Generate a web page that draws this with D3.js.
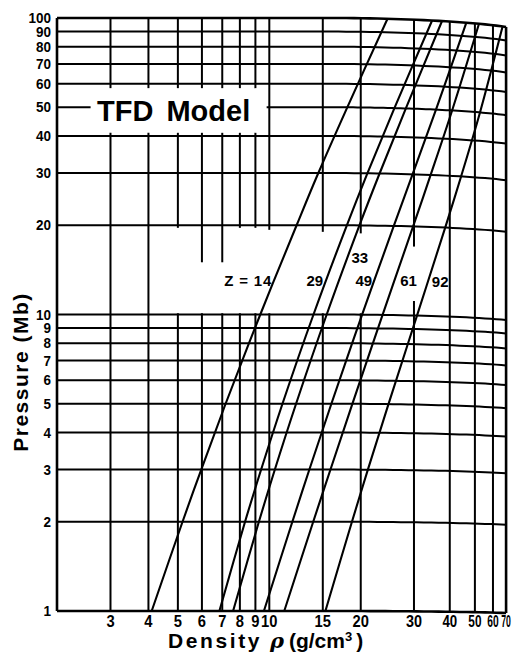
<!DOCTYPE html>
<html>
<head>
<meta charset="utf-8">
<script src="https://cdn.jsdelivr.net/npm/d3@7/dist/d3.min.js"></script>
<style>
body { margin: 0; background: #fff; }
text { font-family: "Liberation Sans", Arial, sans-serif; font-weight: bold; fill: #000; }
</style>
</head>
<body>
<svg id="chart" width="513" height="654"></svg>
<script>
const pressures = [1, 2, 3, 5, 10, 20, 30, 50, 100];
// density (g/cm3) of each element at those pressures
const zNumbers = [14, 29, 33, 49, 61, 92];
const rhoZ14 = [4.1, 5.18, 5.97, 7.18, 9.34, 12.3, 14.5, 18.06, 24.5];
const rhoZ29 = [6.85, 8.32, 9.4, 11.05, 13.98, 18.0, 21.03, 25.82, 34.6];
const rhoZ33 = [7.6, 9.24, 10.43, 12.25, 15.45, 19.8, 23.07, 28.18, 37.5];
const rhoZ49 = [9.6, 11.91, 13.55, 16.01, 20.21, 25.7, 29.67, 35.7, 46.2];
const rhoZ61 = [11.2, 13.95, 15.9, 18.77, 23.6, 29.8, 34.2, 40.8, 52];
const rhoZ92 = [15.3, 18.71, 21.11, 24.68, 30.71, 38.5, 44.09, 52.5, 67];
const curves = [rhoZ14, rhoZ29, rhoZ33, rhoZ49, rhoZ61, rhoZ92];

// grid / tick values
const densityTicks = [3, 4, 5, 6, 7, 8, 9, 10, 15, 20, 30, 40, 50, 60, 70];
const pressureTicks = [1, 2, 3, 4, 5, 6, 7, 8, 9, 10, 20, 30, 40, 50, 60, 70, 80, 90, 100];

// where grid lines are left blank (title and Z labels)
const densityGaps = [
    { rho: [3, 4, 5, 6, 7, 8, 9], from: 41, to: 58 },
    { rho: [5, 8, 9], from: 10.1, to: 19.6 },
    { rho: [6, 7], from: 10.1, to: 15 },
    { rho: [10], from: 10.1, to: 19.3 },
    { rho: [15], from: 10.1, to: 19.0 },
    { rho: [20], from: 10.1, to: 18.8 },
    { rho: [30], from: 11.2, to: 17.1 }
];
const pressureGaps = [{ p: [50], from: 2.58, to: 9.8 }];

// label placement: pressure where the label sits, side of the curve
const labelP = [13, 13, 15.5, 13, 13, 13];
const labelSide = ["end", "end", "start", "end", "start", "start"];
const labelDx = [-2, -3, 4, -2, 6, 4];

const svg = d3.select("#chart");

const x = d3.scaleLog().domain([2, 70]).range([57, 526]);
const y = d3.scaleLog().domain([1, 100]).range([611, 18]);

// the scanned page bends near the binding: right side squeezed and dropped
function bend(px, py) {
    const dx = Math.max(0, px - 380);
    const dq = Math.max(0, px - 330) / 196;
    const drop = (2 + 7 * (611 - py) / 593) * dq * dq;
    return [px - 6.4e-6 * dx * dx * dx, py + drop];
}
const pt = (rho, p) => bend(x(rho), y(p));

function logSteps(a, b, n) {
    return d3.range(n + 1).map(i => a * Math.pow(b / a, i / n));
}

// split [a,b] by gap list
function pieces(a, b, gaps) {
    let segs = [[a, b]];
    gaps.forEach(g => {
        const out = [];
        segs.forEach(([s, e]) => {
            if (g.to <= s || g.from >= e) { out.push([s, e]); return; }
            if (g.from > s) out.push([s, g.from]);
            if (g.to < e) out.push([g.to, e]);
        });
        segs = out;
    });
    return segs;
}

const line = d3.line();
const grid = svg.append("g")
    .attr("fill", "none")
    .attr("stroke", "#000")
    .attr("stroke-width", 2);

// horizontal grid (isobars)
pressureTicks.forEach(p => {
    const gaps = pressureGaps.filter(g => g.p.includes(p));
    pieces(2, 70, gaps).forEach(([a, b]) => {
        grid.append("path")
            .attr("stroke-width", (p === 1 || p === 100) ? 2.6 : 2)
            .attr("d", line(logSteps(a, b, 60).map(r => pt(r, p))));
    });
});

// vertical grid
[2].concat(densityTicks).forEach(r => {
    const gaps = densityGaps.filter(g => g.rho.includes(r));
    pieces(1, 100, gaps).forEach(([a, b]) => {
        grid.append("path")
            .attr("stroke-width", (r === 2 || r === 70) ? 2.6 : 2)
            .attr("d", line(logSteps(a, b, 30).map(p => pt(r, p))));
    });
});

// TFD curves
const curveLine = d3.line().curve(d3.curveCatmullRom.alpha(0.5));
svg.append("g")
    .selectAll("path")
    .data(curves)
    .join("path")
    .attr("fill", "none")
    .attr("stroke", "#000")
    .attr("stroke-width", 2.1)
    .attr("d", d => curveLine(pressures.map((p, i) => pt(d[i], p))));

// curve labels
const lnP = pressures.map(Math.log);
curves.forEach((d, i) => {
    const rhoAt = d3.scaleLinear().domain(lnP).range(d.map(Math.log));
    const p = labelP[i];
    const [cx, cy] = pt(Math.exp(rhoAt(Math.log(p))), p);
    svg.append("text")
        .attr("x", cx + labelDx[i])
        .attr("y", cy + 5)
        .attr("text-anchor", labelSide[i])
        .attr("font-size", 15)
        .attr("letter-spacing", i === 0 ? 0.8 : 0)
        .text(i === 0 ? "Z = " + zNumbers[i] : zNumbers[i]);
});

// y tick labels
svg.append("g")
    .selectAll("text")
    .data(pressureTicks)
    .join("text")
    .attr("transform", d => `translate(51,${y(d) + 5.2}) scale(0.9,1)`)
    .attr("text-anchor", "end")
    .attr("font-size", 15)
    .text(d => d);

// x tick labels (squeezed like the bent page)
svg.append("g")
    .selectAll("text")
    .data(densityTicks)
    .join("text")
    .attr("transform", d => {
        const px = x(d);
        const dx = Math.max(0, px - 380);
        const k = 1 - 3 * 6.4e-6 * dx * dx;
        return `translate(${bend(px, 611)[0]},627) scale(${0.92 * k},1)`;
    })
    .attr("text-anchor", "middle")
    .attr("font-size", 16)
    .text(d => d);

// title
svg.append("text")
    .attr("x", 97)
    .attr("y", 121)
    .attr("font-size", 29)
    .attr("word-spacing", 5)
    .text("TFD Model");

// axis titles
svg.append("text")
    .attr("x", 168)
    .attr("y", 648)
    .attr("font-size", 21)
    .attr("letter-spacing", 2.6)
    .text("Density");

const unit = svg.append("text")
    .attr("x", 270)
    .attr("y", 648)
    .attr("font-size", 21);
unit.append("tspan").attr("font-style", "italic").attr("font-family", "DejaVu Serif").text("ρ");
unit.append("tspan").attr("dx", 5).text("(g/cm");
unit.append("tspan").attr("font-size", 13).attr("dy", -7).text("3");
unit.append("tspan").attr("dy", 7).attr("dx", 4).text(")");

svg.append("text")
    .attr("transform", "translate(28,372) rotate(-90)")
    .attr("text-anchor", "middle")
    .attr("font-size", 21)
    .attr("letter-spacing", 1.5)
    .text("Pressure (Mb)");
</script>
</body>
</html>
